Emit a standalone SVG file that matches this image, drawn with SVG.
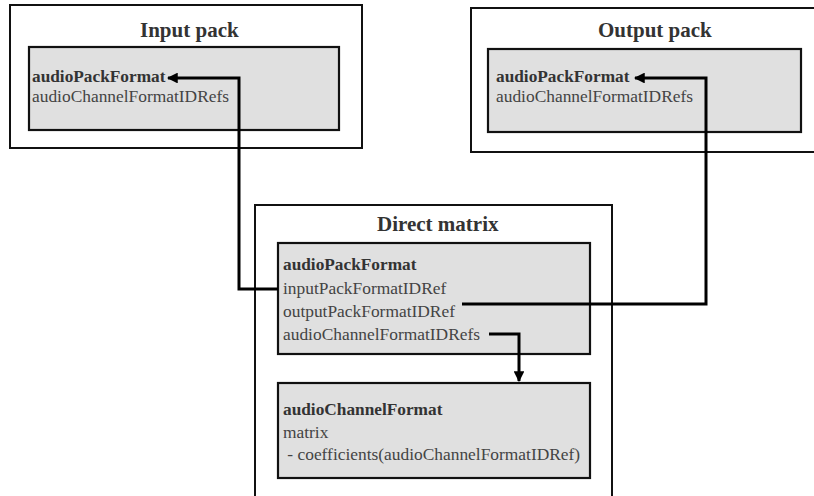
<svg xmlns="http://www.w3.org/2000/svg" width="814" height="496" viewBox="0 0 814 496">
<defs>
<style>
.outer{fill:#ffffff;stroke:#111;stroke-width:2}
.inner{fill:#e0e0e0;stroke:#111;stroke-width:2.2}
.title{font-family:"Liberation Serif","Times New Roman",serif;font-weight:bold;font-size:21px;fill:#333}
.b{font-family:"Liberation Serif","Times New Roman",serif;font-weight:bold;font-size:17.3px;fill:#333}
.t{font-family:"Liberation Serif","Times New Roman",serif;font-size:17.4px;fill:#444}
.conn{fill:none;stroke:#000;stroke-width:3;stroke-linejoin:miter}
</style>
<marker id="arr" viewBox="0 0 10 10" refX="9" refY="5" markerWidth="3.6" markerHeight="3.6" orient="auto" markerUnits="strokeWidth">
<path d="M0,0 L10,5 L0,10 z" fill="#000"/>
</marker>
</defs>
<rect width="814" height="496" fill="#fff"/>
<g id="input-pack">
<rect class="outer" x="10" y="5" width="352" height="143"/>
<text class="title" x="140" y="37">Input pack</text>
<rect class="inner" x="29" y="47" width="310" height="83"/>
<text class="b" x="32" y="82">audioPackFormat</text>
<text class="t" x="32" y="102">audioChannelFormatIDRefs</text>
</g>
<g id="output-pack">
<rect class="outer" x="471" y="8" width="346" height="144"/>
<text class="title" x="598" y="37">Output pack</text>
<rect class="inner" x="488" y="49" width="313" height="83"/>
<text class="b" x="496" y="82">audioPackFormat</text>
<text class="t" x="496" y="102">audioChannelFormatIDRefs</text>
</g>
<g id="direct-matrix">
<rect class="outer" x="255" y="205" width="357" height="294"/>
<text class="title" x="377" y="231">Direct matrix</text>
</g>
<g id="dm-pack">
<rect class="inner" x="278" y="243" width="312" height="111"/>
<text class="b" x="283" y="270">audioPackFormat</text>
<text class="t" x="283" y="294">inputPackFormatIDRef</text>
<text class="t" x="283" y="317">outputPackFormatIDRef</text>
<text class="t" x="283" y="340">audioChannelFormatIDRefs</text>
</g>
<g id="dm-channel">
<rect class="inner" x="278" y="383" width="312" height="95"/>
<text class="b" x="283" y="415">audioChannelFormat</text>
<text class="t" x="283" y="438">matrix</text>
<text class="t" x="283" y="460" xml:space="preserve"> - coefficients(audioChannelFormatIDRef)</text>
</g>
<g id="connectors">
<path class="conn" d="M278,289 H239 V78 H168" marker-end="url(#arr)"/>
<path class="conn" d="M462,304 H706 V78 H635" marker-end="url(#arr)"/>
<path class="conn" d="M489,334 H519 V381" marker-end="url(#arr)"/>
</g>
</svg>
